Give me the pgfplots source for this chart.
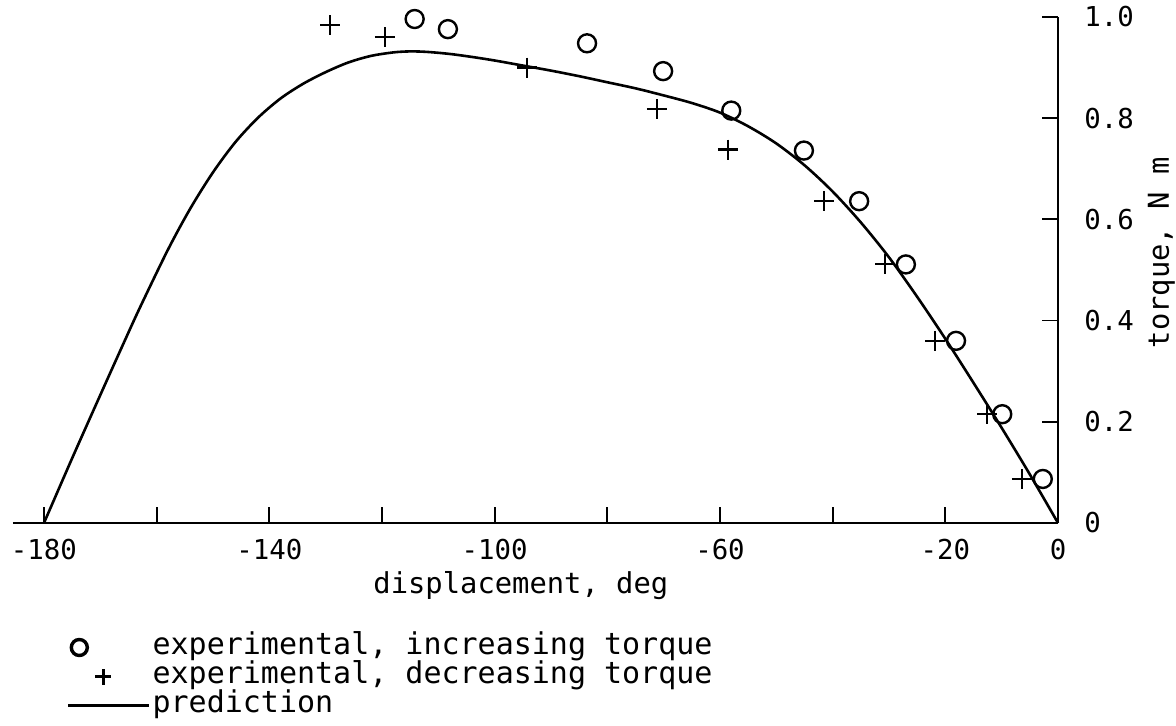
\documentclass[border=0pt]{standalone}
\usepackage{fontspec}
\setmainfont{DejaVu Sans Mono}
\usepackage{pgfplots}
\pgfplotsset{compat=1.18}

% measured torque, increasing direction
\pgfplotstableread{
x y
-114.2 0.996
-108.3 0.976
-83.6 0.948
-70.1 0.893
-58.0 0.815
-45.1 0.736
-35.3 0.636
-27.0 0.511
-18.1 0.360
-9.9 0.215
-2.7 0.087
}\increasing
% measured torque, decreasing direction
\pgfplotstableread{
x y
-129.2 0.984
-119.5 0.960
-94.3 0.900
-71.2 0.818
-58.6 0.738
-41.5 0.636
-30.7 0.512
-21.8 0.360
-12.6 0.215
-6.4 0.087
}\decreasing
% predicted torque curve
\pgfplotstableread{
x y
-180 0
-175 0.128
-170 0.253
-166 0.352
-163 0.425
-158 0.540
-154 0.622
-150 0.693
-146 0.753
-142 0.801
-138 0.839
-134 0.868
-130 0.891
-126 0.910
-122 0.923
-118 0.930
-115 0.932
-112 0.931
-108 0.927
-104 0.921
-100 0.914
-95 0.904
-90 0.894
-85 0.883
-80 0.871
-75 0.859
-70 0.845
-65 0.830
-60 0.811
-55 0.784
-50 0.750
-45 0.707
-40 0.655
-35 0.594
-30 0.525
-25 0.447
-20 0.364
-15 0.277
-10 0.188
-5 0.096
0 0
}\prediction

\newcommand\legfont{\fontsize{15pt}{17pt}\selectfont}

\begin{document}
\begin{tikzpicture}[font=\fontsize{13.7pt}{16pt}\selectfont]
\useasboundingbox (-6.5pt,-101.5pt) rectangle (581.5pt,261.5pt);
\begin{axis}[
  at={(0,0)}, anchor=south west,
  scale only axis, width=522.5pt, height=253pt,
  xmin=-185.5, xmax=0, ymin=0, ymax=1,
  clip=false,
  axis x line=bottom, axis y line=right,
  x axis line style={-}, y axis line style={-},
  axis line style={line width=1pt, black},
  tick align=inside, major tick length=8pt,
  tick style={line width=0.9pt, black},
  /pgf/number format/assume math mode=true,
  xtick={-180,-160,-140,-120,-100,-80,-60,-40,-20,0},
  xticklabels={-180,,-140,,-100,,-60,,-20,0},
  ytick={0,0.2,0.4,0.6,0.8,1},
  yticklabels={0,0.2,0.4,0.6,0.8,1.0},
  xticklabel style={anchor=base, yshift=-18.5pt, inner sep=0pt},
  yticklabel style={anchor=west, inner sep=0pt, xshift=13pt},
  xlabel={displacement, deg},
  xlabel style={at={(axis description cs:0.486,-0.1403)}, anchor=base, inner sep=0pt,
    font=\fontsize{14.4pt}{16pt}\selectfont},
  ylabel={torque, N m},
  ylabel style={at={(axis description cs:1.1062,0.534)}, anchor=base, inner sep=0pt,
    font=\fontsize{14.4pt}{16pt}\selectfont},
  legend style={at={(axis description cs:0.0517,-0.2174)}, anchor=north west,
    draw=none, fill=none, inner sep=0pt, outer sep=0pt,
    row sep=0pt, column sep=1pt, cells={anchor=west},
    nodes={inner sep=0pt, text height=10.5pt, text depth=4pt}},
]
\addplot[only marks, mark=o, mark size=4.5pt, mark options={line width=1.2pt},
  legend image code/.code={
    \path[draw=none, fill=none] (0pt,-4pt) rectangle (40.5pt,4pt);
    \draw[line width=1.7pt] (5.5pt,0pt) circle[radius=4pt];}]
  table[x=x, y=y] {\increasing};
\addlegendentry{\legfont experimental, increasing torque}
\addplot[only marks, mark=+, mark size=5pt, mark options={line width=1.2pt},
  legend image code/.code={
    \path[draw=none, fill=none] (0pt,-4pt) rectangle (40.5pt,4pt);
    \draw[line width=1.6pt] (13.5pt,0pt) -- (21.5pt,0pt) (17.5pt,-4pt) -- (17.5pt,4pt);}]
  table[x=x, y=y] {\decreasing};
\addlegendentry{\legfont experimental, decreasing torque}
\addplot[smooth, line width=1.3pt, black,
  legend image code/.code={
    \path[draw=none, fill=none] (0pt,-4pt) rectangle (40.5pt,4pt);
    \draw[line width=1.3pt] (0pt,0pt) -- (40.5pt,0pt);}]
  table[x=x, y=y] {\prediction};
\addlegendentry{\legfont prediction}
\end{axis}
\end{tikzpicture}
\end{document}
